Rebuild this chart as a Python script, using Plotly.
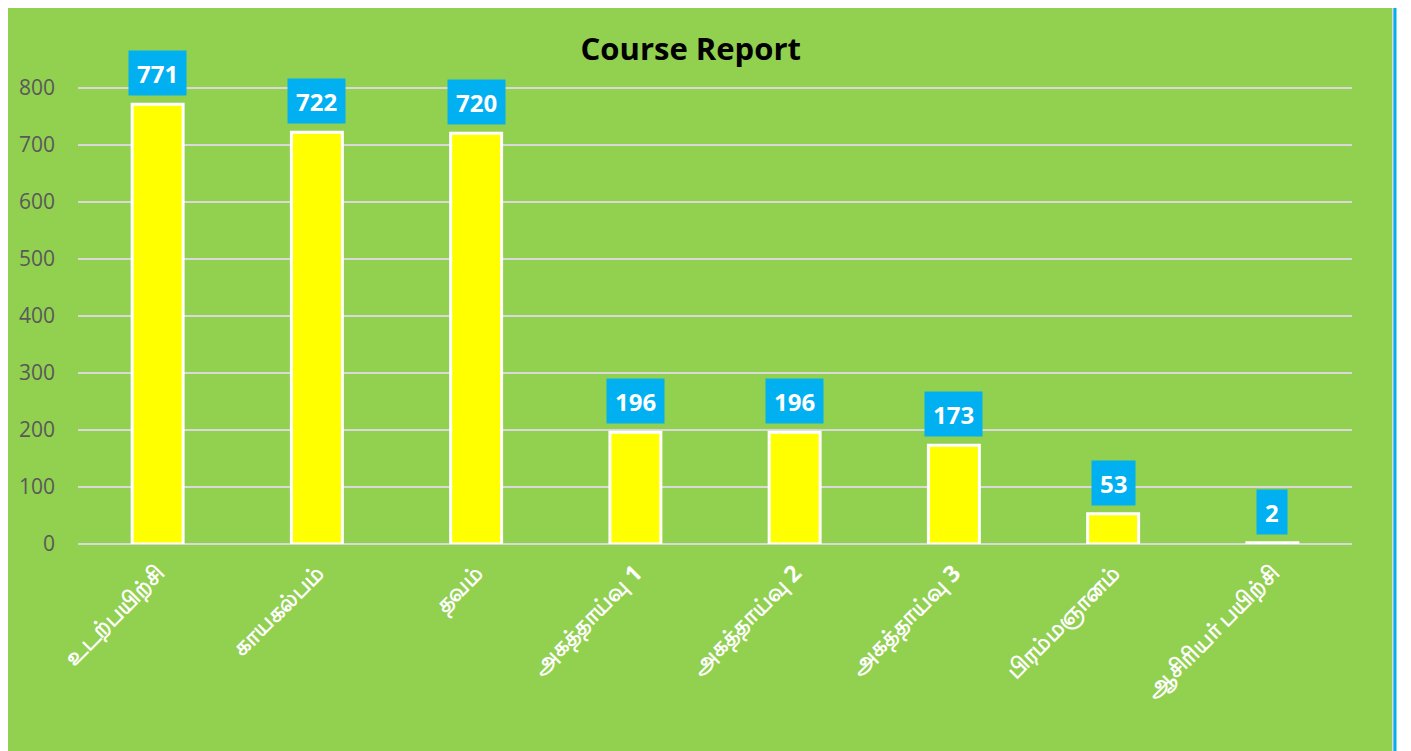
import plotly.graph_objects as go

categories = ["உடற்பயிற்சி", "காயகல்பம்", "தவம்", "அகத்தாய்வு 1", "அகத்தாய்வு 2",
              "அகத்தாய்வு 3", "பிரம்மஞானம்", "ஆசிரியர் பயிற்சி"]
values = [771, 722, 720, 196, 196, 173, 53, 2]
y_ticks = [0, 100, 200, 300, 400, 500, 600, 700, 800]

# page body has an 8px margin; work in reference pixels and offset
OFF = 8
W, H = 1411 - OFF, 751 - OFF
YMAX = 810
pw = 1274
ph = 456 * YMAX / 800
L = 78 - OFF
T = 544 - OFF - ph
R, B = W - L - pw, H - T - ph

def px_x(x):
    return (x - OFF - L) / pw

def px_y(y):
    return 1 - (y - OFF - T) / ph

fig = go.Figure()
fig.add_trace(go.Bar(
    x=categories, y=values,
    marker=dict(color="#FFFF00", line=dict(color="white", width=3)),
    width=0.32, hoverinfo="x+y",
))

for c, v in zip(categories, values):
    fig.add_annotation(
        x=c, y=v, text="<b>%d</b>" % v, showarrow=False,
        yanchor="bottom", yshift=8, bgcolor="#00B0F0",
        font=dict(family="Open Sans, Liberation Sans, sans-serif", size=24, color="white"),
        borderpad=8, height=28,
    )

shapes = [
    dict(type="rect", xref="paper", yref="paper", layer="below",
         x0=px_x(4), x1=px_x(1393), y0=px_y(760), y1=px_y(4),
         fillcolor="#92D050", line=dict(color="#D9D9D9", width=2)),
    dict(type="line", xref="paper", yref="paper",
         x0=px_x(1395), x1=px_x(1395), y0=px_y(760), y1=px_y(6),
         line=dict(color="#00B0F0", width=3)),
]

fig.update_layout(
    width=W, height=H,
    margin=dict(l=L, r=R, t=T, b=B),
    paper_bgcolor="white", plot_bgcolor="rgba(0,0,0,0)",
    shapes=shapes,
    showlegend=False,
    title=dict(text="<b>Course Report</b>", x=px_x(698), xanchor="center",
               y=1 - (49.5 - OFF) / H, yanchor="middle",
               font=dict(family="Open Sans, Liberation Sans, sans-serif", size=31, color="black")),
    xaxis=dict(tickangle=-45, showgrid=False, showline=False, ticks="",
               ticklabelstandoff=10,
               tickfont=dict(family="Noto Sans, DejaVu Sans, sans-serif", size=23,
                             color="white", weight="bold")),
    yaxis=dict(range=[0, YMAX], tickvals=y_ticks, showgrid=True, gridcolor="#D9D9D9",
               gridwidth=2, zeroline=True, zerolinecolor="#D9D9D9", zerolinewidth=2,
               ticks="", ticklabelstandoff=22,
               tickfont=dict(family="Open Sans, Liberation Sans, sans-serif", size=21, color="#595959")),
)

fig.write_html("out.html")
